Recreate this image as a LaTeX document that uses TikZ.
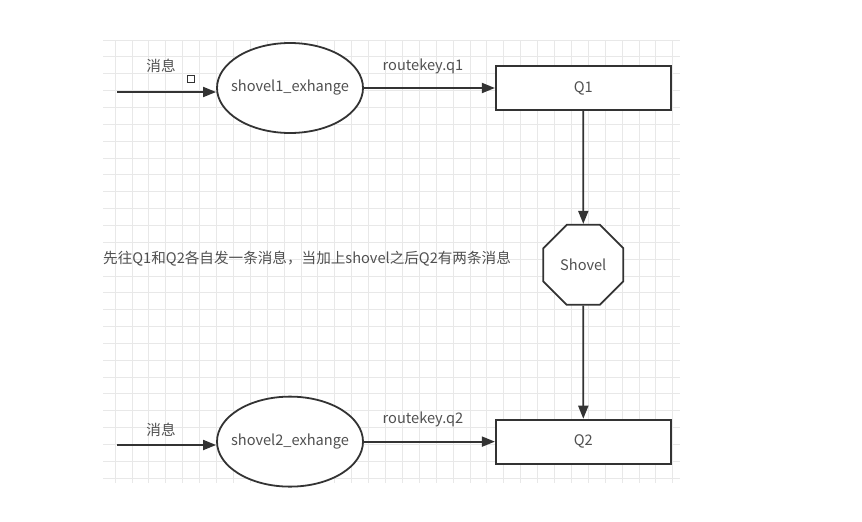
\documentclass[tikz,border=0pt]{standalone}
\usepackage{fontspec}
\newfontfamily\cjkfont{Noto Sans CJK SC}
\usetikzlibrary{arrows.meta,positioning,shapes.geometric}
\definecolor{edgegray}{HTML}{333333}
\definecolor{textgray}{HTML}{505050}
\definecolor{gridgray}{HTML}{E8E8E8}

\begin{document}
\begin{tikzpicture}[
  x=1pt, y=-1pt,
  font=\cjkfont\fontsize{14.6}{17}\selectfont,
  >={Triangle[length=13pt,width=10pt]},
  exch/.style={draw=edgegray, line width=1.8pt, ellipse, minimum width=146pt, minimum height=90pt, inner sep=0pt, fill=white, text=textgray},
  queue/.style={draw=edgegray, line width=1.8pt, minimum width=175pt, minimum height=44pt, inner sep=0pt, fill=white, text=textgray},
  shovelbox/.style={draw=edgegray, line width=1.8pt, regular polygon, regular polygon sides=8, minimum size=86.6pt, inner sep=0pt, fill=white, text=textgray},
  arr/.style={->, line width=1.8pt, draw=edgegray},
  lbl/.style={text=textgray, inner sep=1pt},
  gridline/.style={draw=gridgray, line width=0.8pt}
]
\useasboundingbox (0,0) rectangle (862,522);

% background grid
\foreach \k in {0,...,33} \draw[gridline] (115+16.9*\k,40) -- (115+16.9*\k,483);
\foreach \k in {0,...,26} \draw[gridline] (103,40+16.85*\k) -- (680,40+16.85*\k);

% upper row
\node[exch] (exch1) at (290,88) {\makebox[0pt]{shovel1\_exhange}};
\node[queue, right=131pt of exch1] (q1) {Q1};
\node[shovelbox, below=113pt of q1] (shovel) {Shovel};
% lower row
\node[queue, below=113pt of shovel] (q2) {Q2};
\node[exch, left=131pt of q2] (exch2) {\makebox[0pt]{shovel2\_exhange}};

\coordinate (in1) at (117,92);
\coordinate (in2) at (117,445);

\draw[arr] (in1) -- (exch1.west |- in1);
\draw[arr] (in2) -- (exch2.west |- in2);
\draw[arr] (exch1) -- (q1);
\draw[arr] (exch2) -- (exch2 -| q2.west);
\draw[arr] (q1) -- (shovel);
\draw[arr] (shovel) -- (q2);

\node[lbl] (msg1) at (161,66) {消息};
\node[lbl] (msg2) at (161,430) {消息};
\node[lbl] (key1) at (423,66) {routekey.q1};
\node[lbl] (key2) at (423,419) {routekey.q2};
\draw[edgegray, line width=0.8pt] (187,75) rectangle (194,82);

\node[lbl, anchor=west] (note) at (102,259) {先往Q1和Q2各自发一条消息，当加上shovel之后Q2有两条消息};

\end{tikzpicture}
\end{document}
